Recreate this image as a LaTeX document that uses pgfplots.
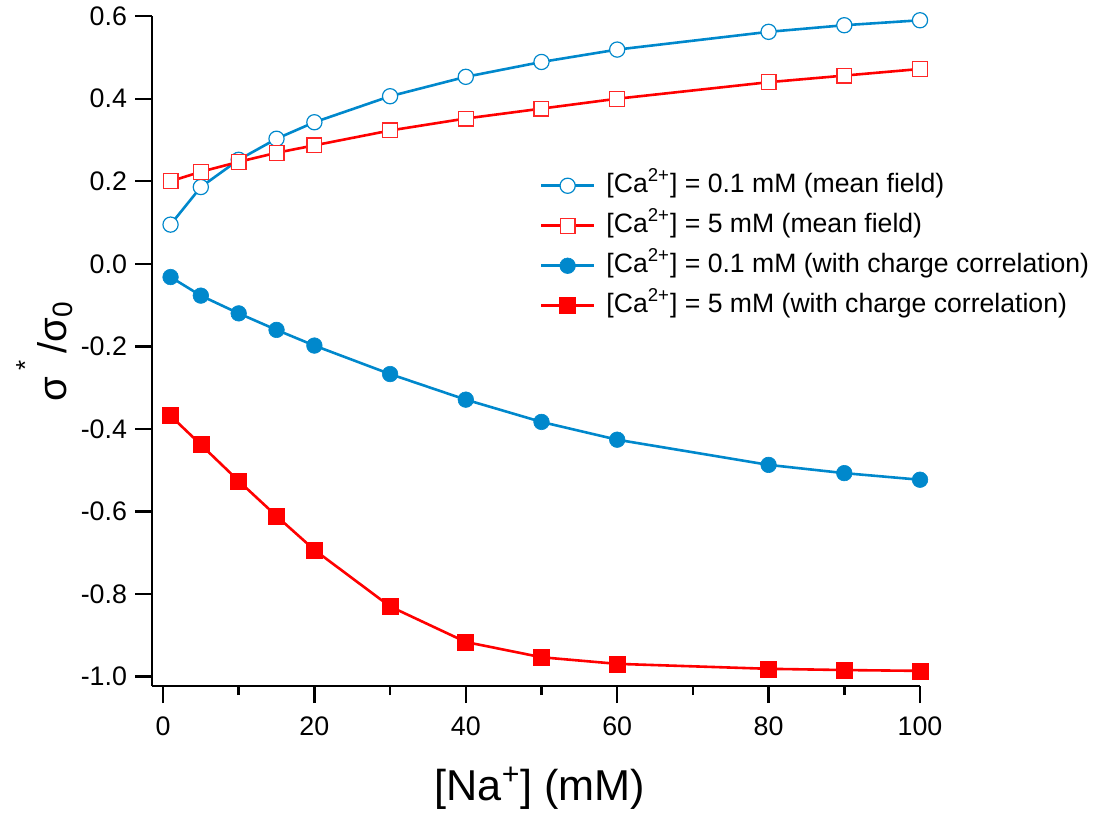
\documentclass[border=0pt]{standalone}
\usepackage{fontspec}
\setmainfont{Liberation Sans}
\usepackage{pgfplots}
\pgfplotsset{compat=1.18}
\definecolor{cblue}{RGB}{0,136,204}
\definecolor{cred}{RGB}{255,0,0}

\begin{document}
\begin{tikzpicture}
\begin{axis}[
  scale only axis,
  width=384pt, height=335pt,
  xmin=-1.45, xmax=100,
  ymin=-1.023, ymax=0.6,
  clip=false,
  axis x line*=bottom, axis y line*=left,
  axis line style={line width=1.2pt, -},
  xtick={0,20,40,60,80,100},
  minor xtick={10,30,50,70,90},
  ytick={-1,-0.8,-0.6,-0.4,-0.2,0,0.2,0.4,0.6},
  tick align=outside,
  major tick length=8.5pt,
  minor tick length=4.5pt,
  tick style={line width=1.2pt, black},
  ticklabel style={font=\fontsize{13.4}{15}\selectfont},
  /pgf/number format/assume math mode=true,
  xticklabel style={yshift=-3.5pt},
  yticklabel style={xshift=-0.5pt, /pgf/number format/fixed, /pgf/number format/fixed zerofill, /pgf/number format/precision=1},
  xlabel={{}[Na\textsuperscript{+}] (mM)},
  xlabel style={font=\fontsize{21.6}{25}\selectfont, at={(axis description cs:0.505,-0.170)}, anchor=base},
  ylabel={σ\,\raisebox{0.8em}{\fontsize{13}{14}\selectfont *}\,/σ\textsubscript{0}},
  ylabel style={font=\fontsize{20}{24}\selectfont, at={(axis description cs:-0.103,0.5)}, anchor=south, inner sep=0pt},
  legend style={
    draw=none, fill=none,
    at={(axis description cs:0.505,0.767)}, anchor=north west,
    inner sep=0pt, outer sep=0pt,
    row sep=6.5pt, column sep=5.5pt,
    font=\fontsize{13.3}{16}\selectfont,
    nodes={inner sep=0pt, text height=10pt, text depth=3.5pt},
  },
  legend cell align=left,
  legend image code/.code={
    \draw[mark repeat=2,mark phase=2,#1] plot coordinates {(0pt,0pt) (13.25pt,0pt) (26.5pt,0pt)};
  },
]

% 0.1 mM, mean field
\addplot[cblue, line width=1.3pt, mark=*, mark size=3.8pt,
  mark options={fill=white, draw=cblue, line width=0.6pt}]
  coordinates {
    (1,0.095) (5,0.186) (10,0.252) (15,0.303) (20,0.343) (30,0.406)
    (40,0.453) (50,0.489) (60,0.519) (80,0.562) (90,0.578) (100,0.590)
  };
\addlegendentry{{}[Ca\textsuperscript{2+}] = 0.1 mM (mean field)}

% 5 mM, mean field
\addplot[cred, line width=1.3pt, mark=square*, mark size=3.7pt,
  mark options={fill=white, draw=cred!85!white, line width=0.6pt}]
  coordinates {
    (1,0.200) (5,0.223) (10,0.247) (15,0.269) (20,0.287) (30,0.323)
    (40,0.352) (50,0.376) (60,0.400) (80,0.440) (90,0.456) (100,0.472)
  };
\addlegendentry{{}[Ca\textsuperscript{2+}] = 5 mM (mean field)}

% 0.1 mM, with charge correlation
\addplot[cblue, line width=1.3pt, mark=*, mark size=3.9pt,
  mark options={fill=cblue, draw=cblue, line width=0.3pt}]
  coordinates {
    (1,-0.032) (5,-0.077) (10,-0.120) (15,-0.160) (20,-0.198) (30,-0.267)
    (40,-0.329) (50,-0.383) (60,-0.426) (80,-0.487) (90,-0.507) (100,-0.523)
  };
\addlegendentry{{}[Ca\textsuperscript{2+}] = 0.1 mM (with charge correlation)}

% 5 mM, with charge correlation
\addplot[cred, line width=1.3pt, mark=square*, mark size=4pt,
  mark options={fill=cred, draw=cred, line width=0.3pt}]
  coordinates {
    (1,-0.368) (5,-0.438) (10,-0.526) (15,-0.611) (20,-0.693) (30,-0.830)
    (40,-0.916) (50,-0.953) (60,-0.969) (80,-0.981) (90,-0.984) (100,-0.986)
  };
\addlegendentry{{}[Ca\textsuperscript{2+}] = 5 mM (with charge correlation)}

\end{axis}
\path (-76pt,-65pt) rectangle (483.5pt,341.5pt);
\end{tikzpicture}
\end{document}
